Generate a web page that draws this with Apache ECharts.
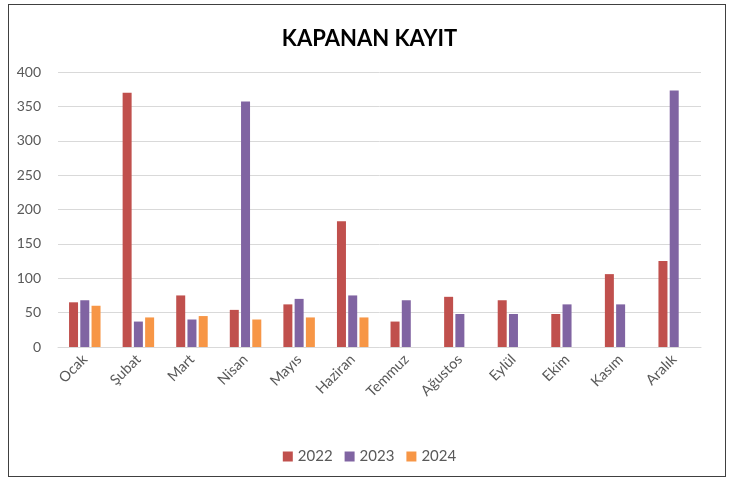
<!DOCTYPE html>
<html>
<head>
<meta charset="utf-8">
<script src="https://cdn.jsdelivr.net/npm/echarts@6/dist/echarts.min.js"></script>
<style>
  html, body { margin: 0; padding: 0; background: #fff; }
  #frame {
    position: absolute; left: 8px; top: 4px; width: 718px; height: 473px;
    border: 1px solid #404040; box-sizing: border-box;
  }
  #chart { position: absolute; left: 0; top: 0; width: 739px; height: 480px; }
</style>
</head>
<body>
<div id="frame"></div>
<div id="chart"></div>
<script>
// aylar
var months = ['Ocak', 'Şubat', 'Mart', 'Nisan', 'Mayıs', 'Haziran', 'Temmuz', 'Ağustos', 'Eylül', 'Ekim', 'Kasım', 'Aralık']
var data2022 = [65, 370, 75, 54, 62, 183, 37, 73, 68, 48, 106, 125]
var data2023 = [68, 37, 40, 357, 70, 75, 68, 48, 48, 62, 62, 373]
var data2024 = [60, 43, 45, 40, 43, 43, null, null, null, null, null, null]
var yTicks = [0, 50, 100, 150, 200, 250, 300, 350, 400]

var chart = echarts.init(document.getElementById('chart'))
var font = 'Lato, "Open Sans", sans-serif'

function barSeries(name, color, values) {
  return {
    name: name,
    type: 'bar',
    data: values,
    barWidth: 9,
    barGap: '25%',
    itemStyle: { color: color }
  }
}

var option = {
  animation: false,
  textStyle: { fontFamily: font },
  title: {
    text: 'KAPANAN KAYIT',
    left: 'center',
    top: 23,
    textStyle: { color: '#000', fontSize: 22, fontWeight: 'bold', fontFamily: font }
  },
  legend: {
    data: ['2022', '2023', '2024'],
    bottom: 11,
    left: 'center',
    itemWidth: 10,
    itemHeight: 10,
    itemGap: 12,
    icon: 'rect',
    textStyle: { color: '#595959', fontSize: 15 }
  },
  grid: {
    left: 58,
    right: 38,
    top: 72,
    bottom: 133
  },
  xAxis: {
    type: 'category',
    data: months,
    axisTick: { show: false },
    axisLine: { lineStyle: { color: '#D9D9D9', width: 1 } },
    axisLabel: {
      color: '#595959',
      fontSize: 14.5,
      rotate: 45,
      interval: 0,
      margin: 10
    }
  },
  yAxis: {
    type: 'value',
    min: 0,
    max: 400,
    interval: 50,
    axisLine: { show: false },
    axisTick: { show: false },
    axisLabel: {
      color: '#595959',
      fontSize: 14,
      margin: 17,
      formatter: function (v) { return yTicks.indexOf(v) >= 0 ? String(v) : '' }
    },
    splitLine: { lineStyle: { color: '#D9D9D9', width: 1 } }
  },
  series: [
    barSeries('2022', '#C0504D', data2022),
    barSeries('2023', '#8064A2', data2023),
    barSeries('2024', '#F79646', data2024)
  ]
}
chart.setOption(option)
</script>
</body>
</html>
